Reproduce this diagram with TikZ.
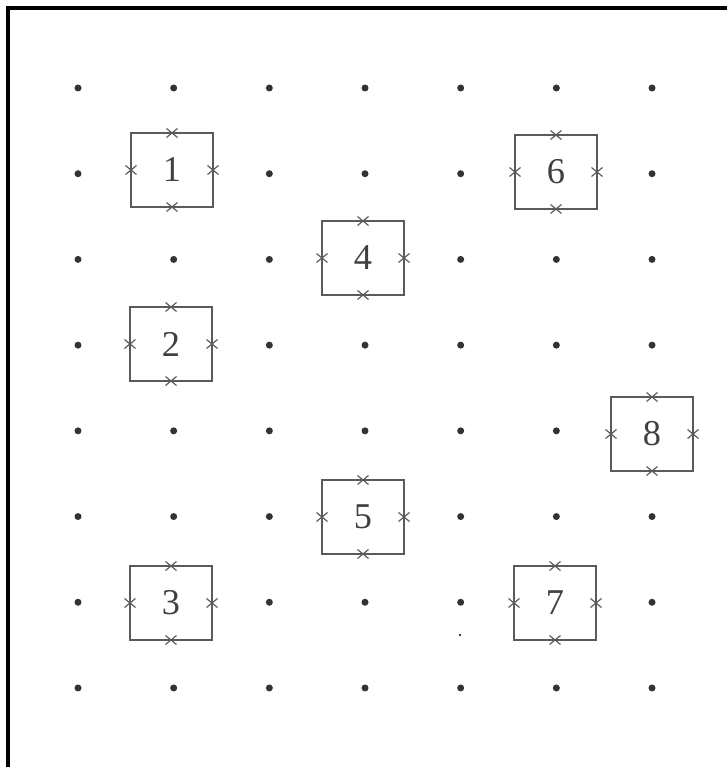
\documentclass[tikz,border=0pt]{standalone}
\usepackage{fontspec}
\usetikzlibrary{positioning}
\newfontfamily\numfont{Liberation Serif}
\definecolor{dotgray}{HTML}{333333}
\definecolor{boxgray}{HTML}{5A5A5A}
\definecolor{numgray}{HTML}{404040}
\tikzset{
	cell/.style={draw=boxgray, fill=white, line width=1.2pt, outer sep=0pt, minimum width=2.46cm, minimum height=2.22cm, text=numgray, font=\numfont\fontsize{31}{31}\selectfont},
	xmark/.style={draw=boxgray, line width=1pt}
}

\begin{document}
\begin{tikzpicture}[x=0.03cm,y=-0.03cm]
	\useasboundingbox (0,0) rectangle (727,767);
	\draw[line width=2.6pt] (8,767) -- (8,8) -- (727,8);
	\foreach \i in {0,...,6} {
		\foreach \j in {0,...,7} {
			\fill[dotgray] (78+95.67*\i,88+85.71*\j) circle (0.105cm);
		}
	}
	\fill[dotgray] (460,635) circle (0.04cm);
	\foreach \n/\x/\y in {1/172/170, 6/556/172, 4/363/258, 2/171/344, 8/652/434, 5/363/517, 3/171/603, 7/555/603} {
		\node[cell] (b\n) at (\x,\y) {\n};
		\foreach \a in {north,south,east,west} {
			\draw[xmark] (b\n.\a) +(-5.5,-4.5) -- +(5.5,4.5) +(-5.5,4.5) -- +(5.5,-4.5);
		}
	}
\end{tikzpicture}
\end{document}
